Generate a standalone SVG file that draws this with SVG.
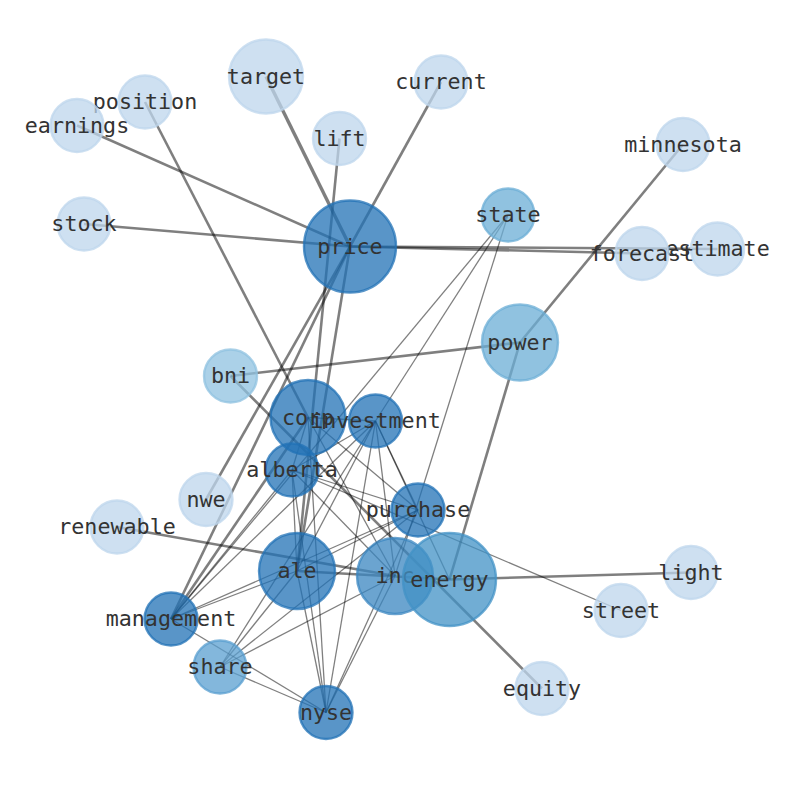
<svg xmlns="http://www.w3.org/2000/svg" width="794" height="790" viewBox="0 0 794 790">
<defs>
<style>
.bg{fill:#ffffff}
.e{stroke:#000;stroke-opacity:0.5;stroke-linecap:butt;fill:none}
.t{stroke-width:2.6}
.w{stroke-width:3.4}
.n{stroke-width:1.3}
circle{stroke-width:2.4;fill-opacity:0.75;stroke-opacity:0.75}
.c0{fill:#bed6ec;stroke:#bed6ec}
.c1{fill:#8fc2e0;stroke:#8fc2e0}
.c2{fill:#6baed6;stroke:#6baed6}
.c3{fill:#5a9fd0;stroke:#5a9fd0}
.c4{fill:#4292c6;stroke:#4292c6}
.c5{fill:#3a86c0;stroke:#3a86c0}
.c6{fill:#2171b5;stroke:#2171b5}
text{font-family:"DejaVu Sans Mono","Liberation Mono",monospace;font-size:21.7px;fill:#333;text-anchor:middle}
</style>
</defs>
<rect class="bg" x="0" y="0" width="794" height="790"/>
<g id="edges">
<line class="e t" x1="77" y1="125.5" x2="350" y2="246.5"/>
<line class="e t" x1="84" y1="224" x2="350" y2="246.5"/>
<line class="e w" x1="266" y1="76.5" x2="350" y2="246.5"/>
<line class="e t" x1="441" y1="82" x2="350" y2="246.5"/>
<line class="e t" x1="339.5" y1="138.5" x2="297" y2="571"/>
<line class="e t" x1="350" y1="246.5" x2="297" y2="571"/>
<line class="e t" x1="350" y1="246.5" x2="642" y2="253.5"/>
<line class="e t" x1="350" y1="246.5" x2="717.5" y2="249"/>
<line class="e t" x1="350" y1="246.5" x2="206" y2="499.5"/>
<line class="e t" x1="350" y1="246.5" x2="171" y2="619"/>
<line class="e t" x1="145" y1="102" x2="308" y2="417.5"/>
<line class="e t" x1="230.5" y1="376" x2="520" y2="342.5"/>
<line class="e t" x1="230.5" y1="376" x2="542" y2="688.5"/>
<line class="e t" x1="520" y1="342.5" x2="683" y2="144.5"/>
<line class="e t" x1="520" y1="342.5" x2="449.5" y2="579.5"/>
<line class="e t" x1="117" y1="527" x2="395" y2="576"/>
<line class="e t" x1="297" y1="571" x2="449.5" y2="579.5"/>
<line class="e t" x1="449.5" y1="579.5" x2="691" y2="572.5"/>
<line class="e t" x1="171" y1="619" x2="308" y2="417.5"/>
<line class="e n" x1="508" y1="215" x2="395" y2="576"/>
<line class="e n" x1="508" y1="215" x2="375.5" y2="421"/>
<line class="e n" x1="508" y1="215" x2="171" y2="619"/>
<line class="e n" x1="308" y1="417.5" x2="375.5" y2="421"/>
<line class="e n" x1="308" y1="417.5" x2="292" y2="470"/>
<line class="e n" x1="308" y1="417.5" x2="326" y2="712.5"/>
<line class="e n" x1="308" y1="417.5" x2="395" y2="576"/>
<line class="e n" x1="308" y1="417.5" x2="418" y2="510"/>
<line class="e n" x1="375.5" y1="421" x2="292" y2="470"/>
<line class="e n" x1="375.5" y1="421" x2="297" y2="571"/>
<line class="e n" x1="375.5" y1="421" x2="418" y2="510"/>
<line class="e n" x1="375.5" y1="421" x2="395" y2="576"/>
<line class="e n" x1="375.5" y1="421" x2="326" y2="712.5"/>
<line class="e n" x1="375.5" y1="421" x2="171" y2="619"/>
<line class="e n" x1="375.5" y1="421" x2="220" y2="667"/>
<line class="e n" x1="375.5" y1="421" x2="449.5" y2="579.5"/>
<line class="e n" x1="292" y1="470" x2="297" y2="571"/>
<line class="e n" x1="292" y1="470" x2="326" y2="712.5"/>
<line class="e n" x1="292" y1="470" x2="418" y2="510"/>
<line class="e n" x1="292" y1="470" x2="621" y2="610.5"/>
<line class="e n" x1="292" y1="470" x2="395" y2="576"/>
<line class="e n" x1="292" y1="470" x2="171" y2="619"/>
<line class="e n" x1="297" y1="571" x2="326" y2="712.5"/>
<line class="e n" x1="297" y1="571" x2="220" y2="667"/>
<line class="e n" x1="297" y1="571" x2="171" y2="619"/>
<line class="e n" x1="297" y1="571" x2="418" y2="510"/>
<line class="e n" x1="418" y1="510" x2="171" y2="619"/>
<line class="e n" x1="418" y1="510" x2="220" y2="667"/>
<line class="e n" x1="418" y1="510" x2="326" y2="712.5"/>
<line class="e n" x1="395" y1="576" x2="326" y2="712.5"/>
<line class="e n" x1="395" y1="576" x2="220" y2="667"/>
<line class="e n" x1="171" y1="619" x2="326" y2="712.5"/>
<line class="e n" x1="220" y1="667" x2="326" y2="712.5"/>
</g>
<g id="node-target"><circle class="c0" cx="266" cy="76.5" r="37"/><text x="266" y="83.5">target</text></g>
<g id="node-position"><circle class="c0" cx="145" cy="102" r="26.5"/><text x="145" y="109">position</text></g>
<g id="node-earnings"><circle class="c0" cx="77" cy="125.5" r="26.5"/><text x="77" y="132.5">earnings</text></g>
<g id="node-current"><circle class="c0" cx="441" cy="82" r="26.5"/><text x="441" y="89">current</text></g>
<g id="node-lift"><circle class="c0" cx="339.5" cy="138.5" r="26.5"/><text x="339.5" y="145.5">lift</text></g>
<g id="node-minnesota"><circle class="c0" cx="683" cy="144.5" r="26.5"/><text x="683" y="151.5">minnesota</text></g>
<g id="node-stock"><circle class="c0" cx="84" cy="224" r="26.5"/><text x="84" y="231">stock</text></g>
<g id="node-price"><circle class="c6" cx="350" cy="246.5" r="46"/><text x="350" y="253.5">price</text></g>
<g id="node-state"><circle class="c2" cx="508" cy="215" r="26.5"/><text x="508" y="222">state</text></g>
<g id="node-estimate"><circle class="c0" cx="717.5" cy="249" r="26.5"/><text x="717.5" y="256">estimate</text></g>
<g id="node-forecast"><circle class="c0" cx="642" cy="253.5" r="26.5"/><text x="642" y="260.5">forecast</text></g>
<g id="node-power"><circle class="c2" cx="520" cy="342.5" r="38"/><text x="520" y="349.5">power</text></g>
<g id="node-bni"><circle class="c1" cx="230.5" cy="376" r="26.5"/><text x="230.5" y="383">bni</text></g>
<g id="node-corp"><circle class="c6" cx="308" cy="417.5" r="37.5"/><text x="308" y="424.5">corp</text></g>
<g id="node-investment"><circle class="c6" cx="375.5" cy="421" r="26.5"/><text x="375.5" y="428">investment</text></g>
<g id="node-alberta"><circle class="c6" cx="292" cy="470" r="26.5"/><text x="292" y="477">alberta</text></g>
<g id="node-nwe"><circle class="c0" cx="206" cy="499.5" r="26.5"/><text x="206" y="506.5">nwe</text></g>
<g id="node-purchase"><circle class="c6" cx="418" cy="510" r="26.5"/><text x="418" y="517">purchase</text></g>
<g id="node-renewable"><circle class="c0" cx="117" cy="527" r="26.5"/><text x="117" y="534">renewable</text></g>
<g id="node-ale"><circle class="c6" cx="297" cy="571" r="38"/><text x="297" y="578">ale</text></g>
<g id="node-inc"><circle class="c5" cx="395" cy="576" r="38"/><text x="395" y="583">inc</text></g>
<g id="node-energy"><circle class="c4" cx="449.5" cy="579.5" r="46.5"/><text x="449.5" y="586.5">energy</text></g>
<g id="node-light"><circle class="c0" cx="691" cy="572.5" r="26.5"/><text x="691" y="579.5">light</text></g>
<g id="node-street"><circle class="c0" cx="621" cy="610.5" r="26.5"/><text x="621" y="617.5">street</text></g>
<g id="node-management"><circle class="c6" cx="171" cy="619" r="26.5"/><text x="171" y="626">management</text></g>
<g id="node-share"><circle class="c3" cx="220" cy="667" r="26.5"/><text x="220" y="674">share</text></g>
<g id="node-equity"><circle class="c0" cx="542" cy="688.5" r="26.5"/><text x="542" y="695.5">equity</text></g>
<g id="node-nyse"><circle class="c6" cx="326" cy="712.5" r="26.5"/><text x="326" y="719.5">nyse</text></g>
</svg>
